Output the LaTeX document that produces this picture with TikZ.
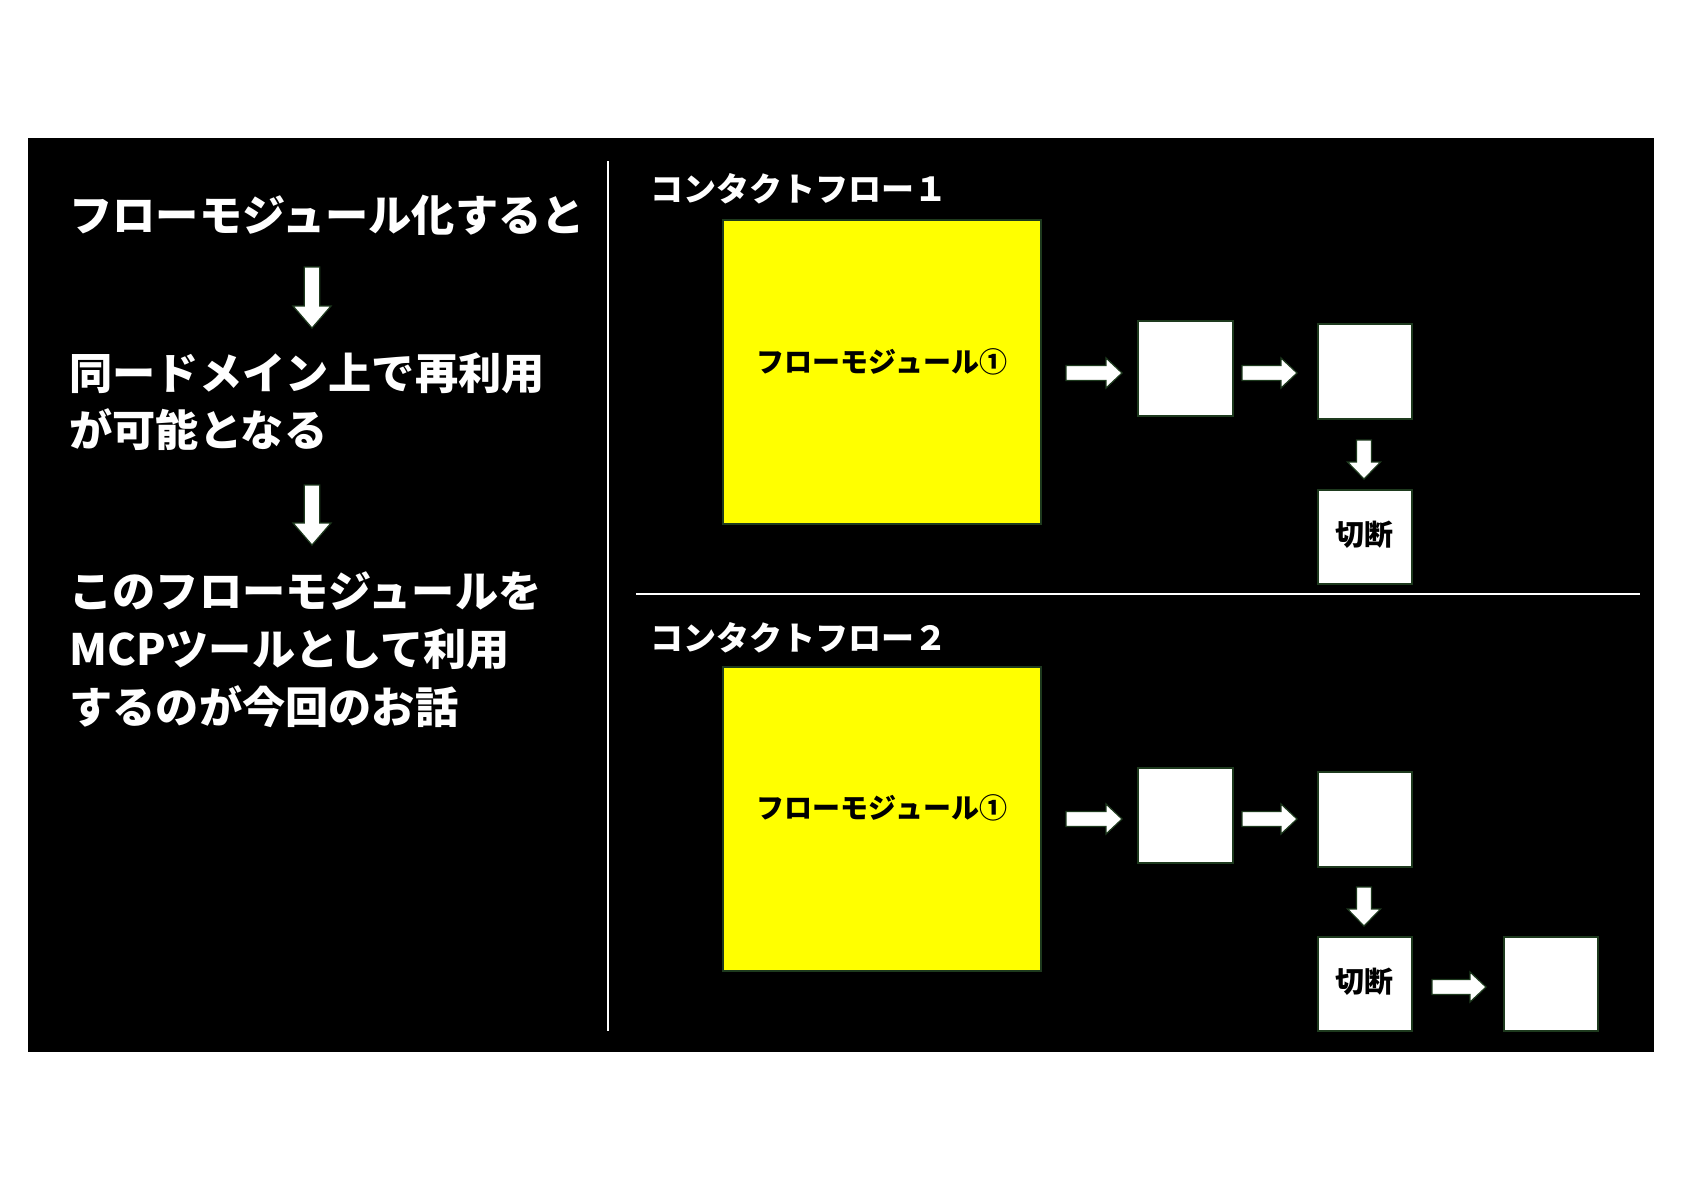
\documentclass[tikz,border=0pt]{standalone}
\usepackage{fontspec}
\setmainfont{Noto Sans CJK JP}
\usetikzlibrary{calc}
\definecolor{edgegreen}{HTML}{1E3A1E}
\definecolor{boxyellow}{HTML}{FFFF00}
\tikzset{
  wbox/.style={draw=edgegreen, line width=1pt, fill=white, inner sep=0pt},
  ybox/.style={draw=edgegreen, line width=1pt, fill=boxyellow, inner sep=0pt},
  lefttext/.style={anchor=west, inner sep=0pt, text=white, font=\fontsize{21.6}{25}\selectfont\bfseries},
  flowtitle/.style={anchor=west, inner sep=0pt, text=white, font=\fontsize{16.5}{20}\selectfont\bfseries},
  boxtext/.style={inner sep=0pt, text=black, font=\fontsize{14}{17}\selectfont\bfseries},
  blockarrow/.style={fill=white, draw=edgegreen, line width=0.6pt},
  divider/.style={draw=white, line width=1pt}
}
% horizontal block arrow from #1 to tip #2
\newcommand\rarr[2]{\path[blockarrow] let \p1=(#1), \p2=(#2) in
  (\x1,\y1+3.75pt) -- (\x2-8pt,\y1+3.75pt) -- (\x2-8pt,\y1+7.5pt) -- (\x2,\y1)
  -- (\x2-8pt,\y1-7.5pt) -- (\x2-8pt,\y1-3.75pt) -- (\x1,\y1-3.75pt) -- cycle;}
% downward block arrow from #1 to tip #2; #3 half shaft, #4 half head, #5 head length
\newcommand\darr[5]{\path[blockarrow] let \p1=(#1), \p2=(#2) in
  (\x1-#3,\y1) -- (\x1-#3,\y2+#5) -- (\x1-#4,\y2+#5) -- (\x1,\y2)
  -- (\x1+#4,\y2+#5) -- (\x1+#3,\y2+#5) -- (\x1+#3,\y1) -- cycle;}
\begin{document}
\begin{tikzpicture}[x=0.5pt,y=-0.5pt]
\useasboundingbox (0,0) rectangle (1684,1191);
\fill[white] (0,0) rectangle (1684,1191);
\fill[black] (28,138) rectangle (1654,1052);

% dividers
\coordinate (vtop) at (608,161);
\coordinate (vbot) at (608,1031);
\coordinate (hl) at (636,594);
\coordinate (hr) at (1640,594);
\draw[divider] (vtop) -- (vbot);
\draw[divider] (hl) -- (hr);

% left texts
\node[lefttext] (t1) at (69,215) {フローモジュール化すると};
\node[lefttext] (t2) at (69,373) {同ードメイン上で再利用};
\node[lefttext] (t3) at (69,430) {が可能となる};
\node[lefttext] (t4) at (69,591) {このフローモジュールを};
\node[lefttext] (t5) at (69,649) {MCPツールとして利用};
\node[lefttext] (t6) at (69,707) {するのが今回のお話};

\coordinate (la1s) at (312,267);
\coordinate (la1e) at (312,328);
\coordinate (la2s) at (312,485);
\coordinate (la2e) at (312,545);
\darr{la1s}{la1e}{3.9pt}{9.5pt}{11pt}
\darr{la2s}{la2e}{3.9pt}{9.5pt}{11pt}

% flow 1
\node[flowtitle] (f1) at (650,189) {コンタクトフロー１};
\node[ybox, minimum width=159pt, minimum height=152pt] (y1) at (882,372) {};
\node[boxtext] (y1t) at (882,362) {フローモジュール①};
\node[wbox, minimum width=47.5pt, minimum height=47.5pt] (a1) at (1185.5,368.5) {};
\node[wbox, minimum width=47pt, minimum height=47.5pt] (b1) at (1364.5,371.5) {};
\node[wbox, minimum width=47pt, minimum height=47pt] (c1) at (1364.5,537) {};
\node[boxtext, font=\fontsize{14.5}{17}\selectfont\bfseries] (c1t) at (1364,535) {切断};
\coordinate (r1s) at (1066,373);
\coordinate (r1e) at (1122,373);
\coordinate (r2s) at (1242,373);
\coordinate (r2e) at (1297,373);
\coordinate (d1s) at (1364,440);
\coordinate (d1e) at (1364,479);
\rarr{r1s}{r1e}
\rarr{r2s}{r2e}
\darr{d1s}{d1e}{3.75pt}{8.25pt}{8.5pt}

% flow 2
\node[flowtitle] (f2) at (650,638) {コンタクトフロー２};
\node[ybox, minimum width=159pt, minimum height=152pt] (y2) at (882,819) {};
\node[boxtext] (y2t) at (882,808) {フローモジュール①};
\node[wbox, minimum width=47.5pt, minimum height=47.5pt] (a2) at (1185.5,815.5) {};
\node[wbox, minimum width=47pt, minimum height=47.5pt] (b2) at (1364.5,819) {};
\node[wbox, minimum width=47pt, minimum height=47pt] (c2) at (1364.5,984) {};
\node[boxtext, font=\fontsize{14.5}{17}\selectfont\bfseries] (c2t) at (1364,982) {切断};
\node[wbox, minimum width=47pt, minimum height=47pt] (e2) at (1551,984) {};
\coordinate (r3s) at (1066,819);
\coordinate (r3e) at (1122,819);
\coordinate (r4s) at (1242,819);
\coordinate (r4e) at (1297,819);
\coordinate (d2s) at (1364,887);
\coordinate (d2e) at (1364,926);
\coordinate (r5s) at (1432,987);
\coordinate (r5e) at (1486,987);
\rarr{r3s}{r3e}
\rarr{r4s}{r4e}
\darr{d2s}{d2e}{3.75pt}{8.25pt}{8.5pt}
\rarr{r5s}{r5e}
\end{tikzpicture}
\end{document}
